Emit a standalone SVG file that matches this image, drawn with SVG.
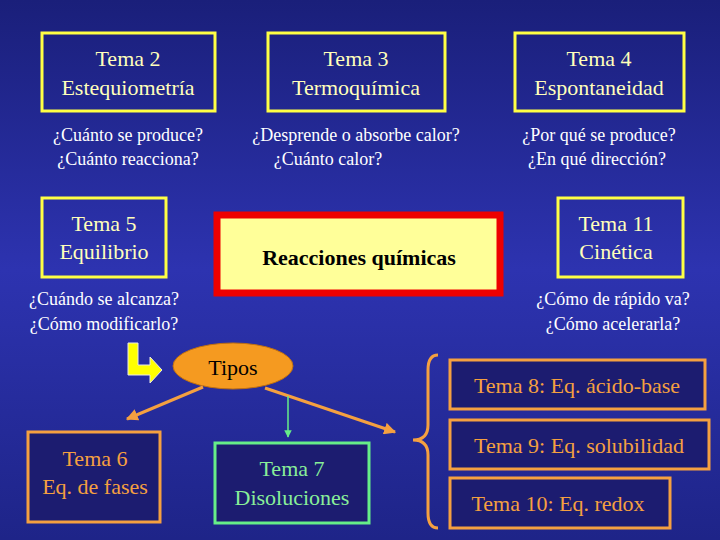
<svg xmlns="http://www.w3.org/2000/svg" width="720" height="540" viewBox="0 0 720 540" font-family="'Liberation Serif','Times New Roman','DejaVu Serif',serif">
<defs>
<linearGradient id="bg" x1="0" y1="0" x2="0" y2="1">
<stop offset="0" stop-color="#1a1f7a"/><stop offset="0.5" stop-color="#2d33b0"/><stop offset="1" stop-color="#1e2488"/>
</linearGradient>
<marker id="ao" viewBox="0 0 10 10" refX="9" refY="5" markerWidth="4" markerHeight="4" orient="auto"><path d="M0,0L10,5L0,10z" fill="#f5a040"/></marker>
<marker id="ag" viewBox="0 0 10 10" refX="9" refY="5" markerWidth="5" markerHeight="5" orient="auto"><path d="M0,0L10,5L0,10z" fill="#66ee88"/></marker>
</defs>
<style>
text{font-family:'Liberation Serif','Times New Roman','DejaVu Serif',serif;font-size:22px;text-anchor:middle}
.y{fill:none;stroke:#ffff44;stroke-width:3}
.yt{fill:#ffffbb}
.w{fill:#fff;font-size:18px}
.o{fill:#1c1c70;stroke:#f5a040;stroke-width:3}
.ot{fill:#f5a040}
</style>
<rect width="720" height="540" fill="url(#bg)"/>
<g id="tema2"><rect class="y" x="42" y="33" width="173" height="78"/><text class="yt" x="128" y="66">Tema 2</text><text class="yt" x="128" y="95">Estequiometría</text></g>
<g id="tema3"><rect class="y" x="268" y="33" width="177" height="78"/><text class="yt" x="356" y="66">Tema 3</text><text class="yt" x="356" y="95">Termoquímica</text></g>
<g id="tema4"><rect class="y" x="515" y="33" width="169" height="78"/><text class="yt" x="599" y="66">Tema 4</text><text class="yt" x="599" y="95">Espontaneidad</text></g>
<text class="w" x="128" y="141">¿Cuánto se produce?</text><text class="w" x="128" y="165">¿Cuánto reacciona?</text>
<text class="w" x="356" y="141">¿Desprende o absorbe calor?</text><text class="w" x="328" y="165">¿Cuánto calor?</text>
<text class="w" x="599" y="141">¿Por qué se produce?</text><text class="w" x="597" y="165">¿En qué dirección?</text>
<g id="tema5"><rect class="y" x="42" y="198" width="124" height="79"/><text class="yt" x="104" y="231">Tema 5</text><text class="yt" x="104" y="259">Equilibrio</text></g>
<g id="tema11"><rect class="y" x="558" y="198" width="125" height="79"/><text class="yt" x="616" y="231">Tema 11</text><text class="yt" x="616" y="259">Cinética</text></g>
<g id="reacciones"><rect x="217" y="215" width="283" height="78" fill="#ffff99" stroke="#ee0000" stroke-width="7"/><text x="359" y="265" font-weight="bold" font-size="25">Reacciones químicas</text></g>
<text class="w" x="104" y="305">¿Cuándo se alcanza?</text><text class="w" x="104" y="330">¿Cómo modificarlo?</text>
<text class="w" x="613" y="305">¿Cómo de rápido va?</text><text class="w" x="613" y="330">¿Cómo acelerarla?</text>
<path d="M128,343h10v22h12v-8l12,13l-12,13v-8h-22z" fill="#ffff00" stroke="#e8e8e8" stroke-width="1"/>
<g id="tipos"><ellipse cx="233" cy="366" rx="60" ry="23" fill="#f59a20" stroke="#c07010"/><text x="233" y="375" font-size="22">Tipos</text></g>
<g id="connectors">
<line x1="203" y1="387" x2="127" y2="419" stroke="#f5a040" stroke-width="3" marker-end="url(#ao)"/>
<line x1="265" y1="388" x2="395" y2="432" stroke="#f5a040" stroke-width="3" marker-end="url(#ao)"/>
<line x1="288" y1="396" x2="288" y2="437" stroke="#66ee88" stroke-width="1.5" marker-end="url(#ag)"/>
<path d="M438,355q-10,0 -10,15v55q0,15 -15,15q15,0 15,15v58q0,15 10,15" fill="none" stroke="#f5a040" stroke-width="3"/>
</g>
<g id="tema6"><rect class="o" x="28" y="432" width="132" height="90"/><text class="ot" x="95" y="466">Tema 6</text><text class="ot" x="95" y="494">Eq. de fases</text></g>
<g id="tema7"><rect x="215" y="443" width="154" height="80" fill="#1c1c70" stroke="#66ee88" stroke-width="3"/><text fill="#88ee99" x="292" y="476">Tema 7</text><text fill="#88ee99" x="292" y="505">Disoluciones</text></g>
<g id="tema8"><rect class="o" x="450" y="360" width="255" height="49"/><text class="ot" x="577" y="393">Tema 8: Eq. ácido-base</text></g>
<g id="tema9"><rect class="o" x="450" y="420" width="259" height="49"/><text class="ot" x="579" y="453">Tema 9: Eq. solubilidad</text></g>
<g id="tema10"><rect class="o" x="450" y="478" width="220" height="50"/><text class="ot" x="558" y="511">Tema 10: Eq. redox</text></g>
</svg>
